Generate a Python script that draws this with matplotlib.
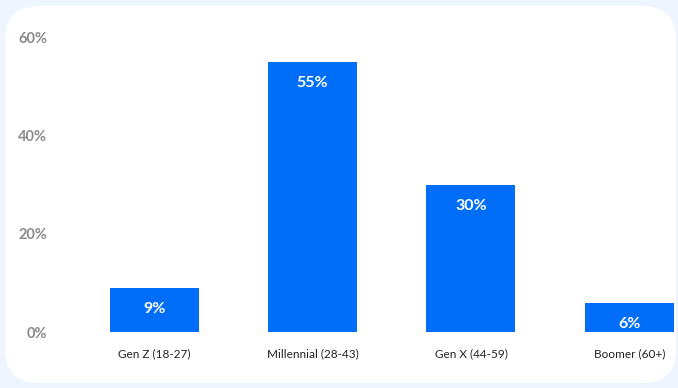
import matplotlib
matplotlib.use("Agg")
import matplotlib.pyplot as plt
from matplotlib.patches import FancyBboxPatch

categories = ["Gen Z (18-27)", "Millennial (28-43)", "Gen X (44-59)", "Boomer (60+)"]
values = [9, 55, 30, 6]
value_labels = ["9%", "55%", "30%", "6%"]
y_ticks = [0, 20, 40, 60]
y_tick_labels = ["0%", "20%", "40%", "60%"]

plt.rcParams["font.family"] = ["Lato", "DejaVu Sans"]

W, H = 678, 388
fig = plt.figure(figsize=(W / 100, H / 100), dpi=100)
fig.patch.set_facecolor("#EEF5FE")

# white rounded card behind the chart
card = FancyBboxPatch((5 / W, (H - 383) / H), (676 - 5) / W, (383 - 6) / H,
                      boxstyle="round,pad=0,rounding_size=0.05",
                      transform=fig.transFigure, facecolor="white",
                      edgecolor="none", zorder=-10,
                      mutation_aspect=W / H)
fig.patches.append(card)

ax = fig.add_axes([75 / W, (H - 332) / H, (W - 75) / W, (332 - 37) / H])
ax.set_facecolor("none")
ax.set_zorder(1)

x = list(range(len(categories)))
bars = ax.bar(x, values, width=0.562, color="#006EF8", zorder=2)

for b, lab in zip(bars, value_labels):
    ax.annotate(lab, (b.get_x() + b.get_width() / 2, b.get_height()),
                xytext=(0, -15.5), textcoords="offset points",
                ha="center", va="center", color="white",
                fontsize=11.5, fontweight="bold", zorder=3)

ax.set_xlim(-0.5, 3.307)
ax.set_ylim(0, 60)
ax.set_xticks(x)
ax.set_xticklabels(categories, fontsize=8.5, color="#222222")
ax.set_yticks(y_ticks)
ax.set_yticklabels(y_tick_labels, fontsize=10.5, color="#8A8A8A", fontweight="bold")
ax.tick_params(axis="x", length=0, pad=12)
ax.tick_params(axis="y", length=0, pad=20)
for s in ax.spines.values():
    s.set_visible(False)

fig.savefig("out.png", dpi=100, facecolor=fig.get_facecolor())
